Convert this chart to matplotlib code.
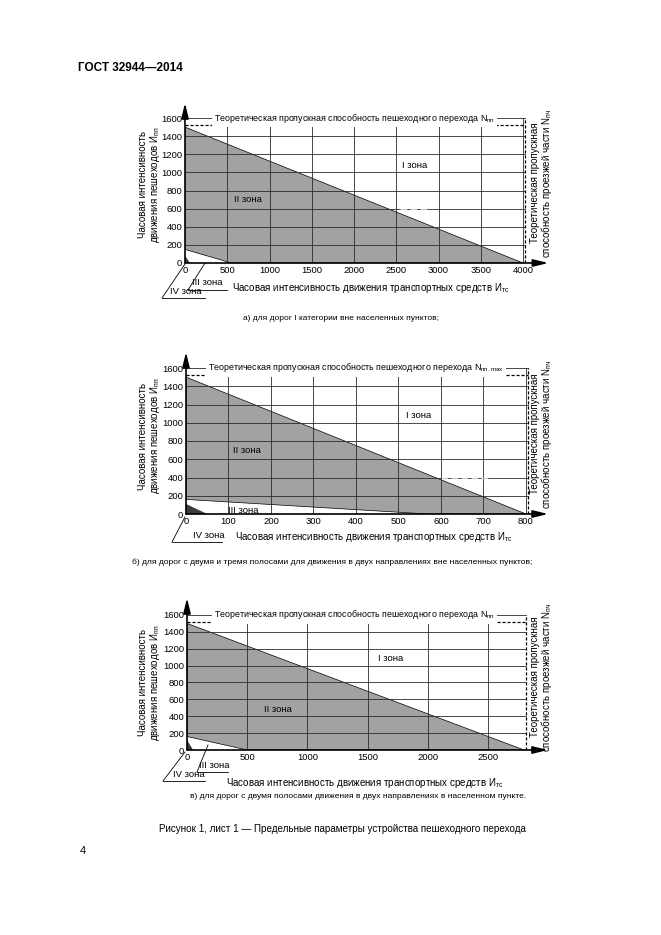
import matplotlib
matplotlib.use("Agg")
import matplotlib.pyplot as plt
from matplotlib.lines import Line2D
from matplotlib.patches import Polygon

plt.rcParams['font.family'] = ['Liberation Sans', 'DejaVu Sans']

W, H = 661, 935

# --- data ---------------------------------------------------------------
# a) roads of category I outside settlements
a_xticks = [0, 500, 1000, 1500, 2000, 2500, 3000, 3500, 4000]
a_yticks = [0, 200, 400, 600, 800, 1000, 1200, 1400, 1600]
a_upper_x = [0, 4000]
a_upper_y = [1500, 0]
a_lower_x = [0, 550]
a_lower_y = [150, 0]
a_zone4_x = [0, 60]
a_zone4_y = [80, 0]
a_ped_cap = 1520      # dashed pedestrian crossing capacity
a_veh_cap = 4020      # dashed carriageway capacity
a_stub_x = [2550, 2900]
a_stub_y = [600, 600]

# b) two/three lane roads outside settlements
b_xticks = [0, 100, 200, 300, 400, 500, 600, 700, 800]
b_yticks = [0, 200, 400, 600, 800, 1000, 1200, 1400, 1600]
b_upper_x = [0, 800]
b_upper_y = [1500, 0]
b_lower_x = [0, 570]
b_lower_y = [160, 0]
b_zone4_x = [0, 50]
b_zone4_y = [110, 0]
b_ped_cap = 1520
b_veh_cap = 805
b_stub_x = [600, 710]
b_stub_y = [400, 400]

# c) two lane roads in settlements
c_xticks = [0, 500, 1000, 1500, 2000, 2500]
c_yticks = [0, 200, 400, 600, 800, 1000, 1200, 1400, 1600]
c_upper_x = [0, 2800]
c_upper_y = [1500, 0]
c_lower_x = [0, 500]
c_lower_y = [160, 0]
c_zone4_x = [0, 50]
c_zone4_y = [120, 0]
c_ped_cap = 1520
c_veh_cap = 2815

GRAY = '#a2a2a2'
DARK = '#3c3c3c'
GRID = '#2a2a2a'


def fx(px):
    return px / W


def fy(py):
    return 1 - py / H


def fig_line(fig, xs, ys, lw=0.6):
    fig.add_artist(Line2D([fx(x) for x in xs], [fy(y) for y in ys],
                          transform=fig.transFigure, color='black', lw=lw))


def make_axes(fig, ox, oy, xscale, yscale, xmax, ymax):
    """Axes whose data origin sits at pixel (ox, oy) of the page."""
    ax = fig.add_axes([fx(ox), fy(oy), xmax * xscale / W, ymax * yscale / H])
    ax.set_xlim(0, xmax)
    ax.set_ylim(0, ymax)
    for s in ax.spines.values():
        s.set_visible(False)
    ax.patch.set_alpha(0)
    return ax


def draw_panel(ax, xticks, yticks, upper_x, upper_y, lower_x, lower_y,
               zone4_x, zone4_y, ped_cap, veh_cap, top_text, text_x, stub=None):
    xmax = ax.get_xlim()[1]
    ymax = ax.get_ylim()[1]
    top = yticks[-1]

    # zone II polygon (between the two diagonals)
    poly = Polygon([(lower_x[0], lower_y[0]), (upper_x[0], upper_y[0]),
                    (upper_x[1], upper_y[1]), (lower_x[1], lower_y[1])],
                   closed=True, facecolor=GRAY, edgecolor='black', lw=0.5, zorder=1)
    ax.add_patch(poly)
    ax.fill(zone4_x + [0], zone4_y + [0], color=DARK, lw=0, zorder=3)

    # grid
    for y in yticks[1:-1]:
        ax.plot([0, veh_cap], [y, y], color=GRID, lw=0.6, zorder=2)
    for x in xticks[1:]:
        if x < veh_cap - 1:
            ax.plot([x, x], [0, top], color=GRID, lw=0.6, zorder=2)
    if stub is not None:
        ax.plot(stub[0], stub[1], color='#c8c8c8', lw=0.8, ls=(0, (6, 3)), zorder=3)

    # capacity lines
    ax.plot([0, veh_cap], [top, top], color=GRID, lw=0.6, zorder=2)
    ax.plot([0, veh_cap], [ped_cap, ped_cap], color='black', lw=0.9,
            ls=(0, (2.5, 1.5)), zorder=2)
    ax.plot([veh_cap, veh_cap], [0, top], color='black', lw=0.9,
            ls=(0, (2.5, 1.5)), zorder=2)
    ax.text(text_x, top, top_text, ha='center', va='center', fontsize=6.4,
            zorder=4, bbox=dict(facecolor='white', edgecolor='none', pad=1.5))

    # axes with arrows
    ax.annotate('', xy=(xmax, 0), xytext=(0, 0), annotation_clip=False,
                arrowprops=dict(arrowstyle='-|>,head_length=0.9,head_width=0.22',
                                color='black', lw=1.2, shrinkA=0, shrinkB=0), zorder=5)
    ax.annotate('', xy=(0, ymax), xytext=(0, 0), annotation_clip=False,
                arrowprops=dict(arrowstyle='-|>,head_length=0.9,head_width=0.22',
                                color='black', lw=1.2, shrinkA=0, shrinkB=0), zorder=5)

    ax.set_xticks(xticks)
    ax.set_xticklabels([str(v) for v in xticks])
    ax.set_yticks(yticks)
    ax.set_yticklabels([str(v) for v in yticks])
    ax.tick_params(length=0, labelsize=6.8, pad=2)


def side_labels(fig, yc_left, yc_right):
    fig.text(fx(150), fy(yc_left), ylab, rotation=90, ha='center', va='center',
             fontsize=7, multialignment='center', linespacing=1.0)
    fig.text(fx(542), fy(yc_right), rlab, rotation=90, ha='center', va='center',
             fontsize=7, multialignment='center', linespacing=1.0)


fig = plt.figure(figsize=(W / 100, H / 100), dpi=100)
fig.patch.set_facecolor('white')

fig.text(fx(78), fy(68), 'ГОСТ 32944—2014', fontsize=8.5, fontweight='bold',
         va='center', ha='left')

ylab = 'Часовая интенсивность\nдвижения пешеходов $\\mathregular{И_{пп}}$'
rlab = 'Теоретическая пропускная\nспособность проезжей части $\\mathregular{N_{пч}}$'
xlab = 'Часовая интенсивность движения транспортных средств $\\mathregular{И_{тс}}$'

# ---------------- panel a ----------------
ax = make_axes(fig, 185, 263, 0.0845, 0.0906, 4300, 1766)
draw_panel(ax, a_xticks, a_yticks, a_upper_x, a_upper_y, a_lower_x, a_lower_y,
           a_zone4_x, a_zone4_y, a_ped_cap, a_veh_cap,
           'Теоретическая пропускная способность пешеходного перехода $\\mathregular{N_{пп}}$',
           2010, stub=(a_stub_x, a_stub_y))
ax.text(2720, 1075, 'I зона', ha='center', va='center', fontsize=6.8)
ax.text(750, 700, 'II зона', ha='center', va='center', fontsize=6.8)
side_labels(fig, 185, 183)
fig.text(fx(371), fy(288), xlab, ha='center', va='center', fontsize=7)
fig.text(fx(192), fy(287), 'III зона', ha='left', va='bottom', fontsize=6.8)
fig_line(fig, [188, 227], [290, 290])
fig_line(fig, [188, 205], [290, 263])
fig.text(fx(170), fy(296), 'IV зона', ha='left', va='bottom', fontsize=6.8)
fig_line(fig, [162, 205], [298, 298])
fig_line(fig, [162, 185], [298, 264])
fig.text(fx(341), fy(318), 'а) для дорог I категории вне населенных пунктов;',
         ha='center', va='center', fontsize=6)

# ---------------- panel b ----------------
ax = make_axes(fig, 186, 514, 0.425, 0.09125, 852, 1775)
draw_panel(ax, b_xticks, b_yticks, b_upper_x, b_upper_y, b_lower_x, b_lower_y,
           b_zone4_x, b_zone4_y, b_ped_cap, b_veh_cap,
           'Теоретическая пропускная способность пешеходного перехода $\\mathregular{N_{пп.max}}$',
           400, stub=(b_stub_x, b_stub_y))
ax.text(548, 1078, 'I зона', ha='center', va='center', fontsize=6.8)
ax.text(143, 694, 'II зона', ha='center', va='center', fontsize=6.8)
ax.text(100, 35, 'III зона', ha='left', va='center', fontsize=6.8, zorder=6)
side_labels(fig, 436, 434)
fig.text(fx(374), fy(537), xlab, ha='center', va='center', fontsize=7)
fig.text(fx(193), fy(540), 'IV зона', ha='left', va='bottom', fontsize=6.8)
fig_line(fig, [172, 222], [542, 542])
fig_line(fig, [172, 185], [542, 517])
fig.text(fx(332), fy(562),
         'б) для дорог с двумя и тремя полосами для движения в двух направлениях вне населенных пунктов;',
         ha='center', va='center', fontsize=6)

# ---------------- panel c ----------------
ax = make_axes(fig, 187, 750, 0.1204, 0.0844, 2998, 1801)
draw_panel(ax, c_xticks, c_yticks, c_upper_x, c_upper_y, c_lower_x, c_lower_y,
           c_zone4_x, c_zone4_y, c_ped_cap, c_veh_cap,
           'Теоретическая пропускная способность пешеходного перехода $\\mathregular{N_{пп}}$',
           1390)
ax.text(1690, 1086, 'I зона', ha='center', va='center', fontsize=6.8)
ax.text(755, 474, 'II зона', ha='center', va='center', fontsize=6.8)
side_labels(fig, 683, 677)
fig.text(fx(365), fy(783), xlab, ha='center', va='center', fontsize=7)
fig.text(fx(199), fy(770), 'III зона', ha='left', va='bottom', fontsize=6.8)
fig_line(fig, [197, 228], [772, 772])
fig_line(fig, [197, 208], [772, 745])
fig.text(fx(173), fy(779), 'IV зона', ha='left', va='bottom', fontsize=6.8)
fig_line(fig, [163, 205], [781, 781])
fig_line(fig, [163, 185], [781, 752])
fig.text(fx(358), fy(797),
         'в) для дорог с двумя полосами движения в двух направлениях в населенном пункте.',
         ha='center', va='center', fontsize=6)

fig.text(fx(342), fy(829),
         'Рисунок 1, лист 1 — Предельные параметры устройства пешеходного перехода',
         ha='center', va='center', fontsize=7.1)
fig.text(fx(80), fy(851), '4', ha='left', va='center', fontsize=8)

fig.savefig('out.png', dpi=100, facecolor='white')
